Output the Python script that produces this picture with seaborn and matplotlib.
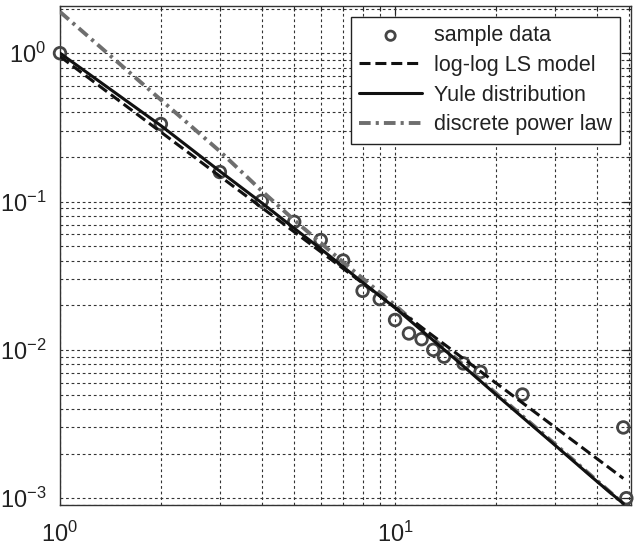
import matplotlib
matplotlib.use("Agg")
import matplotlib.pyplot as plt
import seaborn as sns
import pandas as pd
import numpy as np

# ---- data ----
sample_x = [1, 2, 3, 4, 5, 6, 7, 8, 9, 10, 11, 12, 13, 14, 16, 18, 24, 48, 49]
sample_y = [1.0, 0.333, 0.158, 0.101, 0.073, 0.055, 0.040, 0.025, 0.022, 0.0159,
            0.0129, 0.0118, 0.0100, 0.0090, 0.0081, 0.0071, 0.0050, 0.0030, 0.0010]

ls_x = [1, 48]
ls_y = [0.95, 0.00136]

yule_x = [1, 2, 3, 4, 5, 6, 8, 10, 15, 20, 30, 40, 48]
yule_y = [1.0, 0.325, 0.160, 0.098, 0.066, 0.048, 0.0285, 0.0192, 0.0088, 0.0050,
          0.00228, 0.00130, 0.00092]

pl_x = [1, 2, 3, 4, 5, 7, 10, 20, 30, 48]
pl_y = [1.9, 0.485, 0.218, 0.118, 0.075, 0.039, 0.0200, 0.0051, 0.00232, 0.00092]

labels = ["sample data", "log-log LS model", "Yule distribution", "discrete power law"]

sns.set_style("white")
plt.rcParams["font.family"] = ["Liberation Sans", "DejaVu Sans"]
plt.rcParams["mathtext.fontset"] = "custom"
plt.rcParams["mathtext.rm"] = "Liberation Sans"
plt.rcParams["mathtext.it"] = "Liberation Sans"
plt.rcParams["mathtext.bf"] = "Liberation Sans"
plt.rcParams["axes.unicode_minus"] = False

fig = plt.figure(figsize=(6.37, 5.47), dpi=100)
ax = fig.add_axes([60 / 637, 1 - 505 / 547, 571 / 637, 499 / 547])

df_s = pd.DataFrame({"x": sample_x, "y": sample_y})
df_ls = pd.DataFrame({"x": ls_x, "y": ls_y})
df_yu = pd.DataFrame({"x": yule_x, "y": yule_y})
df_pl = pd.DataFrame({"x": pl_x, "y": pl_y})

ax.set_xscale("log")
ax.set_yscale("log")

sns.scatterplot(data=df_s, x="x", y="y", ax=ax, marker="o", s=70,
                facecolor="none", edgecolor="#454545", linewidth=2.0,
                label=labels[0], zorder=3, clip_on=False)
sns.lineplot(data=df_ls, x="x", y="y", ax=ax, color="#111111", linewidth=2.2,
             linestyle=(0, (3.6, 1.6)), label=labels[1], zorder=4)
sns.lineplot(data=df_yu, x="x", y="y", ax=ax, color="#111111", linewidth=2.2,
             label=labels[2], zorder=4)
sns.lineplot(data=df_pl, x="x", y="y", ax=ax, color="#6e6e6e", linewidth=2.8,
             linestyle=(0, (3.0, 1.3, 0.8, 1.3)), label=labels[3], zorder=3)

ax.set_xlim(1, 50.6)
ax.set_ylim(9.0e-4, 2.08)

ax.xaxis.set_major_locator(matplotlib.ticker.LogLocator(base=10, numticks=10))
ax.xaxis.set_minor_locator(matplotlib.ticker.LogLocator(base=10, subs=np.arange(2, 10), numticks=10))
ax.yaxis.set_major_locator(matplotlib.ticker.LogLocator(base=10, numticks=10))
ax.yaxis.set_minor_locator(matplotlib.ticker.LogLocator(base=10, subs=np.arange(2, 10), numticks=10))
ax.xaxis.set_minor_formatter(matplotlib.ticker.NullFormatter())
ax.yaxis.set_minor_formatter(matplotlib.ticker.NullFormatter())

ax.grid(True, which="both", color="#333333", linestyle=(0, (2.5, 2.5)), linewidth=0.8)
ax.tick_params(axis="both", which="major", direction="in", length=6, width=0.9,
               top=True, right=True, labelsize=17, colors="#222222")
ax.tick_params(axis="x", which="major", pad=12)
ax.tick_params(axis="y", which="major", pad=10)
ax.tick_params(axis="both", which="minor", direction="in", length=3.5, width=0.8,
               top=True, right=True)
for sp in ax.spines.values():
    sp.set_color("#333333")
    sp.set_linewidth(1.0)

ax.set_xlabel("")
ax.set_ylabel("")

leg = ax.legend(loc="upper right", fontsize=15.5, frameon=True, fancybox=False,
                framealpha=1, edgecolor="#222222", handlelength=2.9,
                labelspacing=0.4, borderaxespad=0.5, handletextpad=0.55,
                borderpad=0.4, markerscale=0.8)
leg.get_frame().set_linewidth(1.0)
for t in leg.get_texts():
    t.set_color("#222222")

fig.savefig("out.png", dpi=100)
